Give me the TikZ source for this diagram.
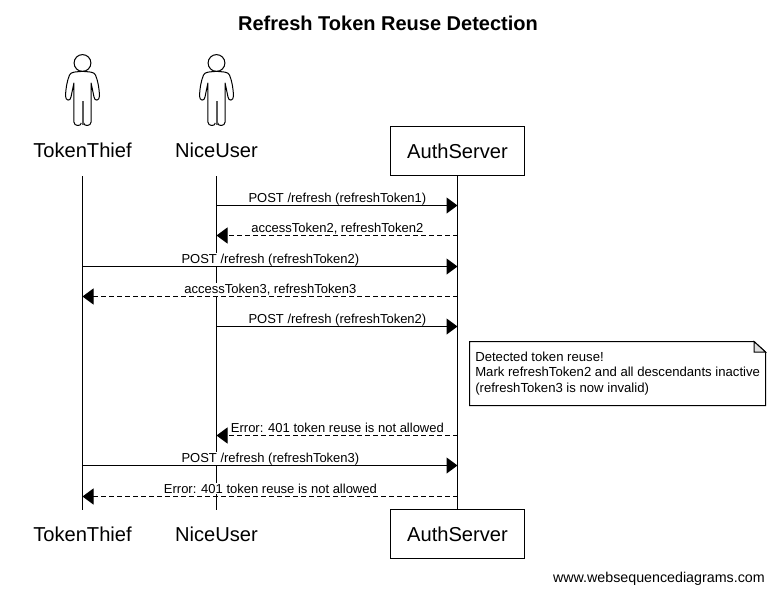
\documentclass[tikz,border=0pt]{standalone}
\usepackage{fontspec}
\setmainfont{Liberation Sans}
\usetikzlibrary{arrows.meta}

\tikzset{
  actorname/.style={font=\fontsize{15.1pt}{18pt}\selectfont, inner sep=0pt},
  actorbox/.style={draw, line width=0.75pt, fill=white, minimum width=100.5pt, minimum height=36.75pt, inner sep=0pt, font=\fontsize{15.1pt}{18pt}\selectfont},
  lifeline/.style={line width=0.75pt},
  outline/.style={line width=0.75pt, line join=round},
  msg/.style={line width=0.75pt, -{Triangle[length=8.25pt,width=12pt]}},
  reply/.style={msg, dash pattern=on 3.75pt off 2.25pt},
  msglabel/.style={font=\fontsize{9.75pt}{11pt}\selectfont, fill=white, inner sep=0.6pt, anchor=base, yshift=2.5pt, xshift=0.3pt, behind path},
  notetext/.style={font=\fontsize{9.85pt}{11.6pt}\selectfont, align=left, anchor=north west, inner sep=0pt}
}

\begin{document}
\begin{tikzpicture}[x=0.75pt,y=0.75pt,yscale=-1,xscale=1]
\useasboundingbox (0,0) rectangle (774,592);

% Title
\node (title) at (388,23) {\fontsize{15pt}{18pt}\selectfont\bfseries Refresh Token Reuse Detection};

% Stick figures
\foreach \cx in {82.5,216.5} {
  \begin{scope}[shift={(\cx,0)}]
    \draw[outline] (0,63) circle (8.4);
    \draw[outline] (-1.2,123) .. controls (-1.2,126.5) and (-8.6,126.5) .. (-8.6,122)
      -- (-8.6,83) -- (-11.5,97) .. controls (-12,101.5) and (-17,101) .. (-17,96)
      .. controls (-16.8,89) and (-15.5,81) .. (-13,75) .. controls (-11.5,71.5) and (-6,72) .. (-2,71.5)
      -- (2,71.5) .. controls (6,72) and (11.5,71.5) .. (13,75)
      .. controls (15.5,81) and (16.8,89) .. (17,96) .. controls (17,101) and (12,101.5) .. (11.5,97)
      -- (8.6,83) -- (8.6,122) .. controls (8.6,126.5) and (1.2,126.5) .. (1.2,123);
    \draw[line width=1.5pt, color=black!65] (0,101) -- (0,124.5);
  \end{scope}
}

% Top row
\node[actorname] (thiefTop) at (82.5,150) {TokenThief};
\node[actorname] (userTop) at (216.5,150) {NiceUser};
\node[actorbox] (serverTop) at (457.5,151) {AuthServer};

% Bottom row
\node[actorname] (thiefBot) at (82.5,534) {TokenThief};
\node[actorname] (userBot) at (216.5,534) {NiceUser};
\node[actorbox] (serverBot) at (457.5,534) {AuthServer};

% Lifelines
\coordinate (thiefA) at (82.5,176);
\coordinate (thiefB) at (82.5,510);
\coordinate (userA) at (216.5,176);
\coordinate (userB) at (216.5,510);
\draw[lifeline] (thiefA) -- (thiefB);
\draw[lifeline] (userA) -- (userB);
\draw[lifeline] (serverTop) -- (serverBot);

% Messages
\draw[msg] (userA |- 0,205.5) -- node[msglabel] {POST /refresh (refreshToken1)} (serverTop |- 0,205.5);
\draw[reply] (serverTop |- 0,235.5) -- node[msglabel] {accessToken2, refreshToken2} (userA |- 0,235.5);
\draw[msg] (thiefA |- 0,266.5) -- node[msglabel] {POST /refresh (refreshToken2)} (serverTop |- 0,266.5);
\draw[reply] (serverTop |- 0,296.5) -- node[msglabel] {accessToken3, refreshToken3} (thiefA |- 0,296.5);
\draw[msg] (userA |- 0,326.5) -- node[msglabel] {POST /refresh (refreshToken2)} (serverTop |- 0,326.5);
\draw[reply] (serverTop |- 0,435.5) -- node[msglabel] {Error: 401 token reuse is not allowed} (userA |- 0,435.5);
\draw[msg] (thiefA |- 0,465.5) -- node[msglabel] {POST /refresh (refreshToken3)} (serverTop |- 0,465.5);
\draw[reply] (serverTop |- 0,496.5) -- node[msglabel] {Error: 401 token reuse is not allowed} (thiefA |- 0,496.5);

% Note
\draw[line width=0.75pt] (469.5,341.5) -- (754,341.5) -- (765.5,352) -- (765.5,405.5) -- (469.5,405.5) -- cycle;
\draw[line width=0.75pt, fill=black!12] (754,341.5) -- (754,352) -- (765.5,352) -- cycle;
\node[notetext] (noteText) at (475,351.5) {Detected token reuse!\\Mark refreshToken2 and all descendants inactive\\(refreshToken3 is now invalid)};

% Footer
\node[anchor=east, inner sep=0pt, font=\fontsize{10.7pt}{12pt}\selectfont] (footer) at (765,578.5) {www.websequencediagrams.com};

\end{tikzpicture}
\end{document}
